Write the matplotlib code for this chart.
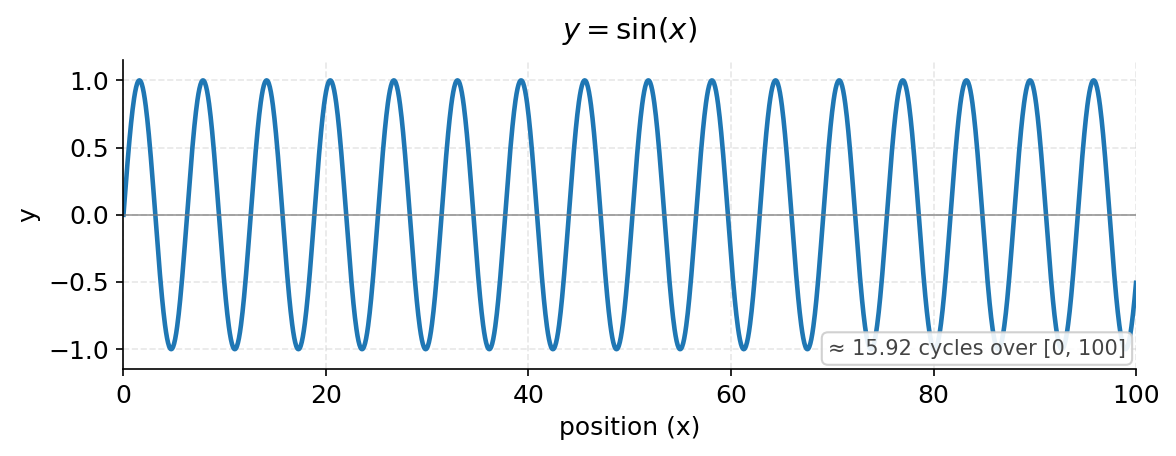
import numpy as np
import matplotlib
matplotlib.use('Agg')
import matplotlib.pyplot as plt

# domain of the plotted function (the chart plots y = sin(x))
x_min, x_max = 0, 100
n_points = 2000
y_ticks = [-1.0, -0.5, 0.0, 0.5, 1.0]
x_ticks = [0, 20, 40, 60, 80, 100]
note = '≈ 15.92 cycles over [0, 100]'

x = np.linspace(x_min, x_max, n_points)
y = np.sin(x)

plt.rcParams['font.size'] = 12
fig, ax = plt.subplots(figsize=(7.84, 3.04), dpi=150)
ax.plot(x, y, color='#1f77b4', lw=2.2)
ax.axhline(0, color='gray', lw=0.8, alpha=0.8)
ax.set_xlim(x_min, x_max)
ax.set_ylim(-1.15, 1.15)
ax.set_xticks(x_ticks)
ax.set_yticks(y_ticks)
ax.grid(True, ls='--', alpha=0.3)
ax.spines['top'].set_visible(False)
ax.spines['right'].set_visible(False)
ax.set_xlabel('position (x)')
ax.set_ylabel('y')
ax.set_title(r'$y = \sin(x)$', fontsize=14, pad=10)
ax.text(0.99, 0.035, note, transform=ax.transAxes, ha='right', va='bottom',
        fontsize=10, color='#444444',
        bbox=dict(boxstyle='round,pad=0.3', fc='white', ec='#cccccc', alpha=0.9))
fig.subplots_adjust(left=0.105, right=0.966, top=0.868, bottom=0.19)
fig.savefig('out.png', dpi=150)
